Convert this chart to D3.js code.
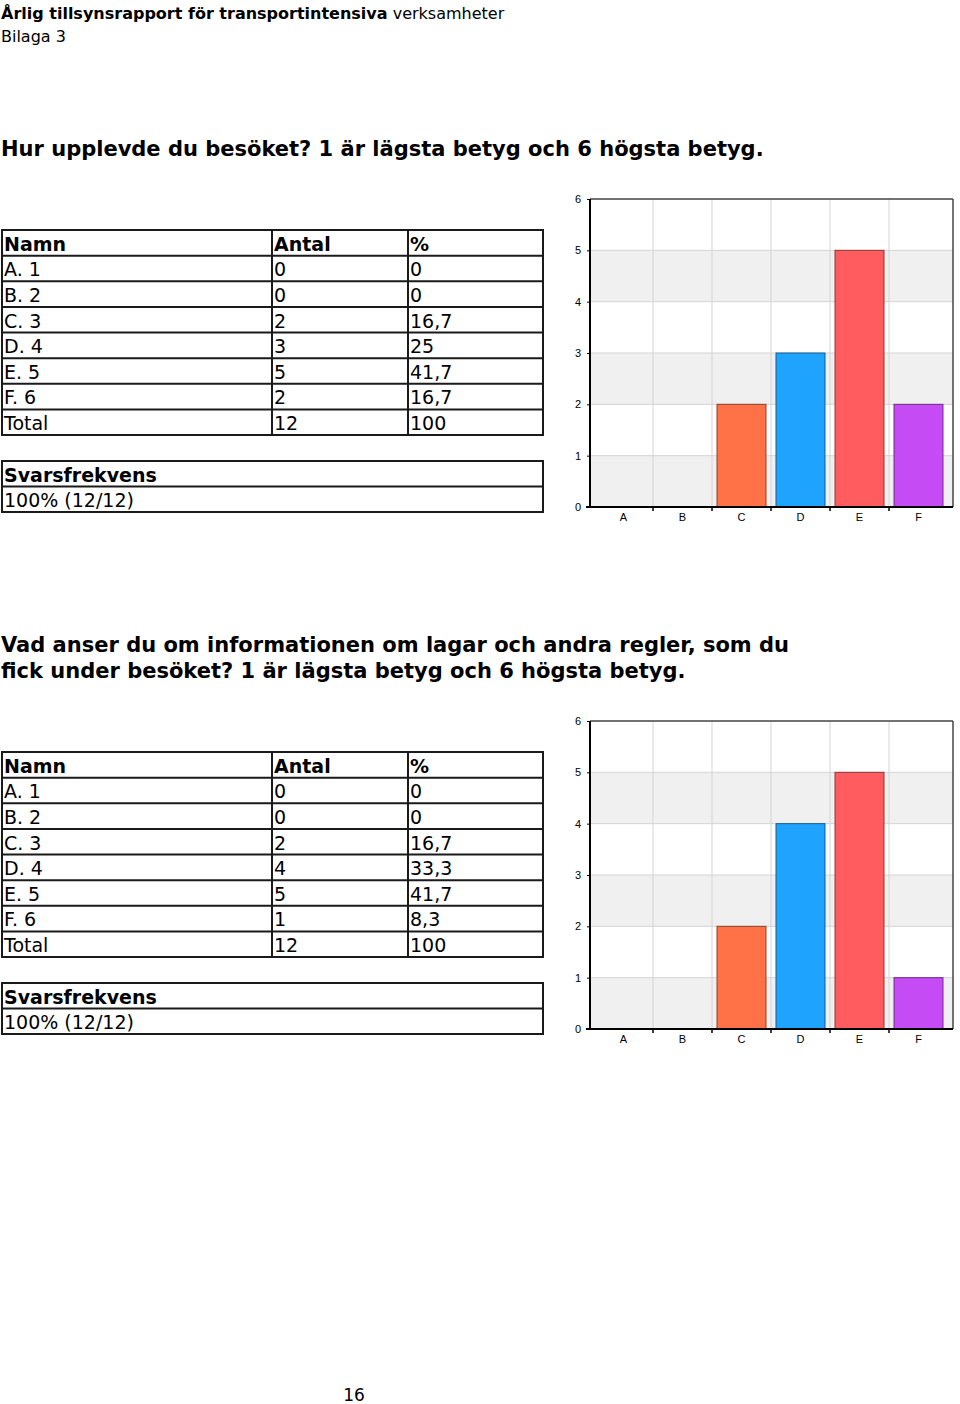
<!DOCTYPE html>
<html>
<head>
<meta charset="utf-8">
<script src="https://cdn.jsdelivr.net/npm/d3@7"></script>
<style>
  body { margin: 0; background: #fff; }
  svg text { fill: #000; }
</style>
</head>
<body>
<svg id="page" width="960" height="1404"></svg>
<script>
const categories = ["A", "B", "C", "D", "E", "F"];
const rowNames = ["A. 1", "B. 2", "C. 3", "D. 4", "E. 5", "F. 6"];
const yTicks = [0, 1, 2, 3, 4, 5, 6];
const barColors = ["#ff7146", "#ff7146", "#ff7146", "#1ea4ff", "#ff5c5f", "#c54bf5"];

const title1 = ["Hur upplevde du besöket? 1 är lägsta betyg och 6 högsta betyg."];
const antal1 = [0, 0, 2, 3, 5, 2];
const pct1 = ["0", "0", "16,7", "25", "41,7", "16,7"];

const title2 = ["Vad anser du om informationen om lagar och andra regler, som du",
                "fick under besöket? 1 är lägsta betyg och 6 högsta betyg."];
const antal2 = [0, 0, 2, 4, 5, 1];
const pct2 = ["0", "0", "16,7", "33,3", "41,7", "8,3"];

const total = ["Total", "12", "100"];
const svarsfrekvens = "100% (12/12)";

const svg = d3.select("#page");
const font = "'DejaVu Sans', Verdana, sans-serif";

// page header
svg.append("text").attr("x", 1).attr("y", 19)
  .style("font-family", font).style("font-size", "16px")
  .call(t => {
    t.append("tspan").attr("font-weight", "bold").text("Årlig tillsynsrapport för transportintensiva");
    t.append("tspan").text(" verksamheter");
  });
svg.append("text").attr("x", 1).attr("y", 42)
  .style("font-family", font).style("font-size", "16px").text("Bilaga 3");

svg.append("text").attr("x", 354).attr("y", 1401).attr("text-anchor", "middle")
  .style("font-family", font).style("font-size", "17px").text("16");

function section(top, titleY, titleLines, antal, pct) {
  const g = svg.append("g");

  g.selectAll("text.title").data(titleLines).enter()
    .append("text").attr("class", "title")
    .attr("x", 1).attr("y", (d, i) => titleY + i * 26)
    .style("font-family", font).style("font-size", "21px").style("font-weight", "bold")
    .text(d => d);

  // ---- table ----
  const colX = [2, 272, 408, 543];
  const tableTop = top + 31;
  const rowY = d3.scaleLinear().domain([0, 8]).range([tableTop, tableTop + 205]);
  const rows = [["Namn", "Antal", "%"]]
    .concat(rowNames.map((n, i) => [n, String(antal[i]), pct[i]]))
    .concat([total]);

  const tbl = g.append("g");
  tbl.append("rect").attr("x", colX[0]).attr("y", rowY(0))
    .attr("width", colX[3] - colX[0]).attr("height", rowY(8) - rowY(0))
    .attr("fill", "none").attr("stroke", "#1a1a1a").attr("stroke-width", 2);
  d3.range(1, 8).forEach(i => {
    tbl.append("line").attr("x1", colX[0]).attr("x2", colX[3])
      .attr("y1", rowY(i)).attr("y2", rowY(i)).attr("stroke", "#1a1a1a").attr("stroke-width", 2);
  });
  [1, 2].forEach(c => {
    tbl.append("line").attr("x1", colX[c]).attr("x2", colX[c])
      .attr("y1", rowY(0)).attr("y2", rowY(8)).attr("stroke", "#1a1a1a").attr("stroke-width", 2);
  });
  rows.forEach((r, i) => {
    r.forEach((cell, c) => {
      tbl.append("text").attr("x", colX[c] + 2).attr("y", rowY(i + 1) - 5)
        .style("font-family", font).style("font-size", "19px")
        .style("font-weight", i === 0 ? "bold" : "normal")
        .text(cell);
    });
  });

  const sfTop = top + 262;
  const sfY = d3.scaleLinear().domain([0, 2]).range([sfTop, sfTop + 51]);
  tbl.append("rect").attr("x", colX[0]).attr("y", sfY(0))
    .attr("width", colX[3] - colX[0]).attr("height", sfY(2) - sfY(0))
    .attr("fill", "none").attr("stroke", "#1a1a1a").attr("stroke-width", 2);
  tbl.append("line").attr("x1", colX[0]).attr("x2", colX[3])
    .attr("y1", sfY(1)).attr("y2", sfY(1)).attr("stroke", "#1a1a1a").attr("stroke-width", 2);
  tbl.append("text").attr("x", colX[0] + 2).attr("y", sfY(1) - 5)
    .style("font-family", font).style("font-size", "19px").style("font-weight", "bold")
    .text("Svarsfrekvens");
  tbl.append("text").attr("x", colX[0] + 2).attr("y", sfY(2) - 5)
    .style("font-family", font).style("font-size", "19px")
    .text(svarsfrekvens);

  // ---- chart ----
  const left = 590, right = 953, cTop = top, cBottom = top + 308;
  const y = d3.scaleLinear().domain([0, 6]).range([cBottom, cTop]);
  const xGrid = d3.scaleBand().domain(categories).range([594, 948]).padding(0);
  const x = d3.scaleBand().domain(categories).range([594, 948])
    .paddingInner(0.17).paddingOuter(0.085);

  const ch = g.append("g");
  ch.append("rect").attr("x", left).attr("y", cTop).attr("width", right - left)
    .attr("height", cBottom - cTop).attr("fill", "#fff");
  ch.selectAll("rect.band").data([0, 2, 4]).enter()
    .append("rect").attr("class", "band")
    .attr("x", left).attr("width", right - left)
    .attr("y", d => y(d + 1)).attr("height", d => y(d) - y(d + 1))
    .attr("fill", "#f0f0f0");
  ch.selectAll("line.hgrid").data(yTicks.slice(1, 6)).enter()
    .append("line").attr("class", "hgrid")
    .attr("x1", left).attr("x2", right).attr("y1", d => y(d)).attr("y2", d => y(d))
    .attr("stroke", "#d4d4d4");
  ch.selectAll("line.vgrid").data(categories.slice(1)).enter()
    .append("line").attr("class", "vgrid")
    .attr("x1", d => xGrid(d)).attr("x2", d => xGrid(d))
    .attr("y1", cTop).attr("y2", cBottom).attr("stroke", "#d4d4d4");

  ch.selectAll("rect.bar").data(antal).enter()
    .append("rect").attr("class", "bar")
    .attr("x", (d, i) => x(categories[i]))
    .attr("width", x.bandwidth())
    .attr("y", d => y(d)).attr("height", d => y(0) - y(d))
    .attr("fill", (d, i) => barColors[i])
    .attr("stroke", (d, i) => d3.color(barColors[i]).darker(1.6))
    .attr("stroke-width", 1)
    .style("display", d => d > 0 ? null : "none");

  // frame
  ch.append("line").attr("x1", left).attr("x2", right).attr("y1", cTop).attr("y2", cTop)
    .attr("stroke", "#444").attr("stroke-width", 1.5);
  ch.append("line").attr("x1", right).attr("x2", right).attr("y1", cTop).attr("y2", cBottom)
    .attr("stroke", "#444").attr("stroke-width", 1.5);

  const yAxis = ch.append("g").attr("transform", `translate(${left},0)`)
    .call(d3.axisLeft(y).tickValues(yTicks).tickSize(3).tickPadding(6).tickFormat(d3.format("d")));
  const xAxis = ch.append("g").attr("transform", `translate(0,${cBottom})`)
    .call(d3.axisBottom(xGrid).tickSize(0).tickPadding(6));
  xAxis.selectAll(".tick.bound").data(categories.slice(1)).enter()
    .append("line").attr("class", "bound")
    .attr("x1", d => xGrid(d)).attr("x2", d => xGrid(d)).attr("y1", 0).attr("y2", 4)
    .attr("stroke", "#000").attr("stroke-width", 1.5);
  [yAxis, xAxis].forEach(a => {
    a.select(".domain").attr("stroke", "#000").attr("stroke-width", 2);
    a.selectAll("text").style("font-family", "'Liberation Sans', Arial, sans-serif")
      .style("font-size", "11px").attr("fill", "#222");
  });
  yAxis.select(".domain").attr("d", `M0,${cTop}V${cBottom}`);
  xAxis.select(".domain").attr("d", `M${left - 4},0H${right}`);
}

section(199, 156, title1, antal1, pct1);
section(721, 652, title2, antal2, pct2);
</script>
</body>
</html>
